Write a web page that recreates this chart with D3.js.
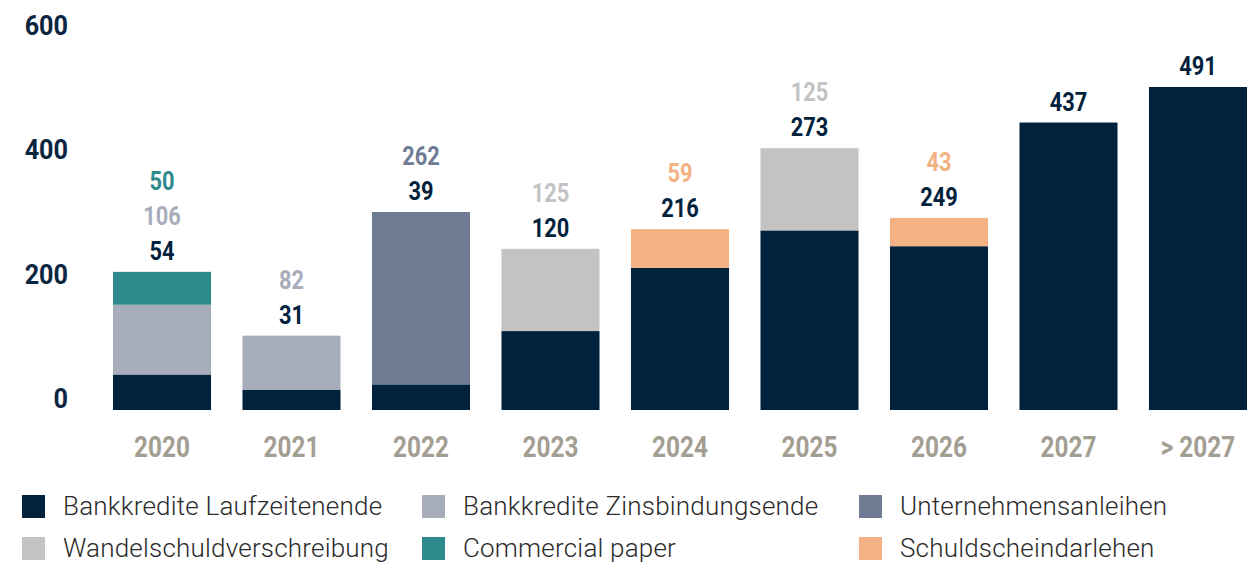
<!DOCTYPE html>
<meta charset="utf-8">
<script src="https://d3js.org/d3.v7.min.js"></script>
<style>
  body {margin: 0; background: #fff;}
  .num {font-family: Roboto, "Liberation Sans", Arial, sans-serif; font-weight: bold;}
  .legend text {font-family: Roboto, "Liberation Sans", Arial, sans-serif; font-weight: 300; font-size: 26px; letter-spacing: 0.2px; fill: #2b2b2b;}
</style>
<div id="my_dataviz"></div>
<script>

// categories and series
var years = ["2020", "2021", "2022", "2023", "2024", "2025", "2026", "2027", "> 2027"];
var seriesNames = ["Bankkredite Laufzeitenende", "Bankkredite Zinsbindungsende", "Unternehmensanleihen",
                   "Wandelschuldverschreibung", "Commercial paper", "Schuldscheindarlehen"];
var colors = ["#00223d", "#a7adba", "#6f7b93", "#c3c3c3", "#2f8a8d", "#f4b183"];

// values per series, one per year
var laufzeit   = [54, 31, 39, 120, 216, 273, 249, 437, 491];
var zinsbind   = [106, 82, 0, 0, 0, 0, 0, 0, 0];
var anleihen   = [0, 0, 262, 0, 0, 0, 0, 0, 0];
var wandel     = [0, 0, 0, 125, 0, 125, 0, 0, 0];
var commercial = [50, 0, 0, 0, 0, 0, 0, 0, 0];
var schuld     = [0, 0, 0, 0, 59, 0, 43, 0, 0];
var yTicks = [0, 200, 400, 600];

var seriesValues = [laufzeit, zinsbind, anleihen, wandel, commercial, schuld];

var width = 1247, height = 563;
var squeeze = 0.84; // narrow the bold digits like a condensed face

var svg = d3.select("#my_dataviz")
  .append("svg")
    .attr("width", width)
    .attr("height", height);

// table for the stack
var table = years.map(function(y, i) {
  var row = {year: y};
  seriesNames.forEach(function(s, k) { row[s] = seriesValues[k][i]; });
  return row;
});
var stacked = d3.stack().keys(seriesNames)(table);

var x = d3.scaleBand()
  .domain(years)
  .range([97.25, 1262.75])
  .paddingInner(0.243)
  .paddingOuter(0.1215);

var y = d3.scaleLinear()
  .domain([0, 600])
  .range([410, 15.3]);

// tick labels sit on their own even spacing, as in the original
var yLabel = d3.scaleLinear()
  .domain([0, 600])
  .range([408, 35]);

// bars
svg.append("g")
  .selectAll("g")
  .data(stacked)
  .enter()
  .append("g")
    .attr("fill", function(d, k) { return colors[k]; })
  .selectAll("rect")
  .data(function(d) { return d; })
  .enter()
  .append("rect")
    .attr("x", function(d) { return x(d.data.year); })
    .attr("y", function(d) { return y(d[1]); })
    .attr("height", function(d) { return y(d[0]) - y(d[1]); })
    .attr("width", x.bandwidth());

// value labels stacked above each bar
var labels = [];
years.forEach(function(yr, i) {
  var total = 0, n = 0;
  seriesValues.forEach(function(v) { total += v[i]; });
  seriesValues.forEach(function(v, k) {
    if (v[i] > 0) {
      labels.push({year: yr, value: v[i], color: colors[k], top: total, n: n});
      n++;
    }
  });
});

svg.append("g")
  .selectAll("text")
  .data(labels)
  .enter()
  .append("text")
    .attr("class", "num")
    .attr("transform", function(d) {
      return "translate(" + (x(d.year) + x.bandwidth() / 2) + "," + (y(d.top) - 12 - d.n * 35) + ") scale(" + squeeze + ",1)";
    })
    .attr("text-anchor", "middle")
    .attr("font-size", 26)
    .attr("fill", function(d) { return d.color; })
    .text(function(d) { return d.value; });

// y axis labels
svg.append("g")
  .selectAll("text")
  .data(yTicks)
  .enter()
  .append("text")
    .attr("class", "num")
    .attr("transform", function(d) { return "translate(68," + yLabel(d) + ") scale(0.9,1)"; })
    .attr("text-anchor", "end")
    .attr("font-size", 28)
    .attr("fill", "#0c2540")
    .text(function(d) { return d; });

// x axis labels
var xAxis = svg.append("g")
  .attr("transform", "translate(0,410)")
  .call(d3.axisBottom(x).tickSize(0).tickPadding(0));
xAxis.select(".domain").remove();
xAxis.selectAll("text")
  .attr("class", "num")
  .attr("dy", null)
  .attr("y", null)
  .attr("transform", "translate(0,47) scale(" + squeeze + ",1)")
  .attr("font-size", 29)
  .attr("fill", "#a39e92");

// legend
var legendPos = [[22, 495], [422, 495], [859, 495], [22, 537], [422, 537], [859, 537]];
var legendOrder = [0, 1, 2, 3, 4, 5];
var legend = svg.append("g").attr("class", "legend")
  .selectAll("g")
  .data(legendOrder)
  .enter()
  .append("g")
    .attr("transform", function(k, i) { return "translate(" + legendPos[i][0] + "," + legendPos[i][1] + ")"; });
legend.append("rect")
  .attr("width", 23)
  .attr("height", 23)
  .attr("fill", function(k) { return colors[k]; });
legend.append("text")
  .attr("x", 41)
  .attr("y", 20)
  .text(function(k) { return seriesNames[k]; });

</script>
